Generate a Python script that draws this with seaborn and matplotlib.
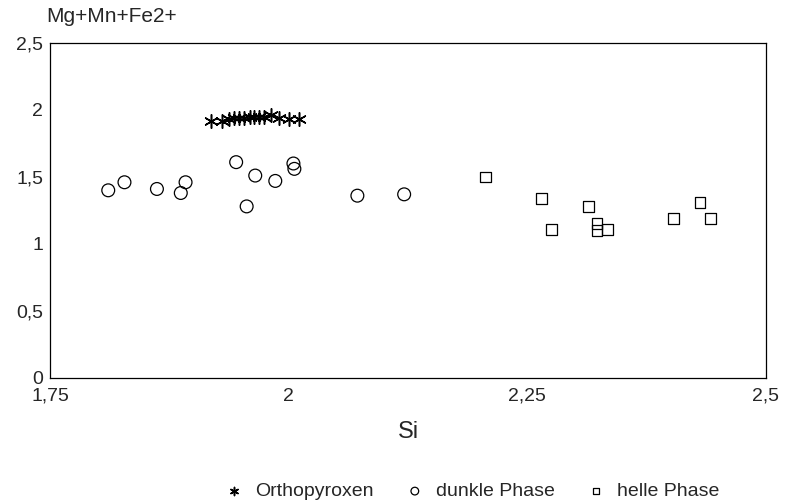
import matplotlib
matplotlib.use("Agg")
import matplotlib.pyplot as plt
import seaborn as sns
import pandas as pd

# --- data ---
opx_si = [1.919, 1.93, 1.938, 1.943, 1.948, 1.953, 1.959, 1.964, 1.969, 1.974, 1.982, 1.99, 2.0, 2.011]
opx_mg = [1.92, 1.92, 1.93, 1.94, 1.94, 1.94, 1.95, 1.95, 1.95, 1.95, 1.96, 1.94, 1.93, 1.93]

dunkel_si = [1.811, 1.828, 1.862, 1.887, 1.892, 1.945, 1.956, 1.965, 1.986, 2.005, 2.006, 2.072, 2.121]
dunkel_mg = [1.40, 1.46, 1.41, 1.38, 1.46, 1.61, 1.28, 1.51, 1.47, 1.60, 1.56, 1.36, 1.37]

hell_si = [2.206, 2.265, 2.275, 2.314, 2.323, 2.323, 2.334, 2.403, 2.431, 2.442]
hell_mg = [1.50, 1.34, 1.11, 1.28, 1.15, 1.10, 1.11, 1.19, 1.31, 1.19]

x_ticks = [1.75, 2.0, 2.25, 2.5]
x_labels = ["1,75", "2", "2,25", "2,5"]
y_ticks = [0, 0.5, 1, 1.5, 2, 2.5]
y_labels = ["0", "0,5", "1", "1,5", "2", "2,5"]

df = pd.concat([
    pd.DataFrame({"Si": opx_si, "Mg": opx_mg, "Phase": "Orthopyroxen"}),
    pd.DataFrame({"Si": dunkel_si, "Mg": dunkel_mg, "Phase": "dunkle Phase"}),
    pd.DataFrame({"Si": hell_si, "Mg": hell_mg, "Phase": "helle Phase"}),
])

sns.set_theme(style="white")
plt.rcParams["font.family"] = ["Liberation Sans", "DejaVu Sans"]

fig = plt.figure(figsize=(7.99, 5.04), dpi=100)
ax = fig.add_axes([0.0626, 0.25, 0.896, 0.665])

markers = {"Orthopyroxen": (6, 2, 0), "dunkle Phase": "o", "helle Phase": "s"}
sizes = {"Orthopyroxen": 95, "dunkle Phase": 85, "helle Phase": 60}
for phase, sub in df.groupby("Phase", sort=False):
    if phase == "Orthopyroxen":
        sns.scatterplot(data=sub, x="Si", y="Mg", ax=ax, marker=markers[phase], s=sizes[phase],
                        color="black", linewidth=1.1, label=phase)
    else:
        sns.scatterplot(data=sub, x="Si", y="Mg", ax=ax, marker=markers[phase], s=sizes[phase],
                        facecolor="none", edgecolor="black", linewidth=0.9, label=phase)

ax.set_xlim(1.75, 2.5)
ax.set_ylim(0, 2.5)
ax.set_xticks(x_ticks)
ax.set_xticklabels(x_labels, fontsize=14)
ax.set_yticks(y_ticks)
ax.set_yticklabels(y_labels, fontsize=14)
ax.tick_params(axis="both", direction="in", length=6, width=0.8, color="black", pad=5)
ax.tick_params(axis="x", pad=7)
for sp in ax.spines.values():
    sp.set_color("black")
    sp.set_linewidth(0.9)

ax.set_xlabel("Si", fontsize=17, labelpad=12)
ax.set_ylabel("")
fig.text(0.058, 0.948, "Mg+Mn+Fe2+", fontsize=15, ha="left", va="bottom")

handles, labels = ax.get_legend_handles_labels()
ax.get_legend().remove()
fig.legend(handles, labels, loc="center", bbox_to_anchor=(0.592, 0.025), ncol=3, frameon=False,
           markerscale=0.6, handlelength=0.8, handletextpad=0.7, columnspacing=1.7,
           prop={"size": 14})

fig.savefig("out.png", dpi=100)
